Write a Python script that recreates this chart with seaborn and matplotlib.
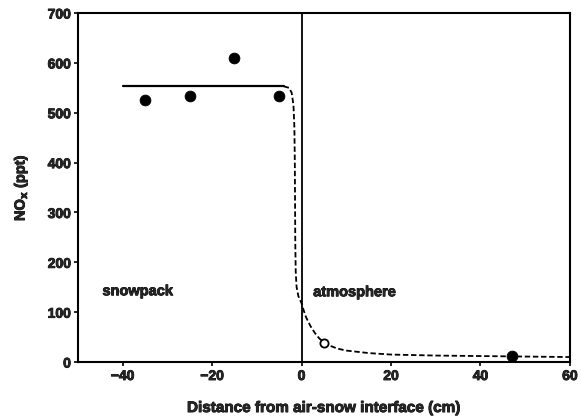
import matplotlib
matplotlib.use("Agg")
import matplotlib.pyplot as plt
import matplotlib.patheffects as pe
import seaborn as sns

# Measured NOx concentrations (snowpack interstitial air and ambient air)
snow_x = [-35, -25, -15, -5]
snow_y = [525, 533, 610, 533]
air_closed_x = [47]
air_closed_y = [13]
air_open_x = [5]
air_open_y = [38]

# Mean snowpack level
mean_x = [-40, -4]
mean_y = [553, 553]

# Modelled profile across the interface
model_x = [-4, -2.8, -2.2, -1.8, -1.6, -1.5, -1.45, -1.4, -1.3, -1.1, -0.7, 0, 0.5, 1, 2, 3, 4, 5, 6, 8, 10, 15, 20, 30, 40, 50, 60]
model_y = [553, 550, 540, 515, 470, 400, 320, 240, 180, 150, 132, 118, 103, 90, 72, 58, 47, 40, 34, 27, 23, 18, 15, 13, 12, 11, 10]

x_ticks = [-40, -20, 0, 20, 40, 60]
y_ticks = [0, 100, 200, 300, 400, 500, 600, 700]

sns.set_theme(style="ticks")
plt.rcParams["font.family"] = ["Liberation Sans", "DejaVu Sans"]
plt.rcParams["font.weight"] = "bold"

heavy = [pe.withStroke(linewidth=0.6, foreground="black")]

fig = plt.figure(figsize=(5.81, 4.20), dpi=100)
ax = fig.add_axes([0.134, 0.138, 0.847, 0.831])

sns.lineplot(x=mean_x, y=mean_y, ax=ax, color="black", lw=1.6, estimator=None, sort=False)
sns.lineplot(x=model_x, y=model_y, ax=ax, color="black", lw=1.3, estimator=None, sort=False,
             linestyle=(0, (3, 1.5)))
ax.axvline(0, color="black", lw=1.3)

sns.scatterplot(x=snow_x + air_closed_x, y=snow_y + air_closed_y, ax=ax, color="black",
                s=60, edgecolor="black", zorder=5)
sns.scatterplot(x=air_open_x, y=air_open_y, ax=ax, facecolor="white", edgecolor="black",
                s=35, linewidth=1.3, zorder=5)

ax.text(-44.5, 142, "snowpack", fontsize=10.5, fontweight="bold", va="center", ha="left",
        path_effects=heavy)
ax.text(2.6, 140, "atmosphere", fontsize=10.5, fontweight="bold", va="center", ha="left",
        path_effects=heavy)

ax.set_xlim(-50, 60)
ax.set_ylim(0, 700)
ax.set_xticks(x_ticks)
ax.set_yticks(y_ticks)
ax.set_xticklabels([f"\u2212{abs(v)}" if v < 0 else str(v) for v in x_ticks])
ax.tick_params(direction="out", length=3, width=1.2, labelsize=10, color="black", pad=2)
for lab in ax.get_xticklabels() + ax.get_yticklabels():
    lab.set_fontweight("bold")
    lab.set_path_effects(heavy)
for sp in ax.spines.values():
    sp.set_visible(True)
    sp.set_linewidth(1.5)
    sp.set_color("black")

ax.set_xlabel("Distance from air-snow interface (cm)", fontsize=11, fontweight="bold",
              labelpad=13, path_effects=heavy)
ax.set_ylabel("NO$_\\mathbf{x}$ (ppt)", fontsize=10.5, fontweight="bold", labelpad=13,
              path_effects=heavy)

fig.savefig("out.png", dpi=100)
